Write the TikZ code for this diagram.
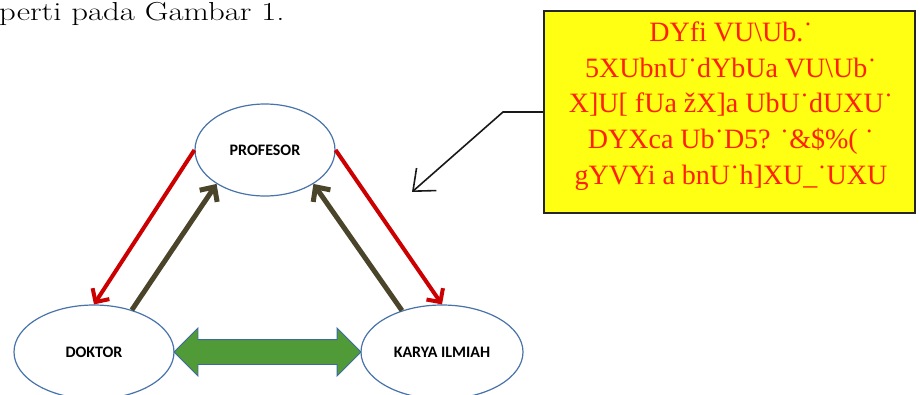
\documentclass[tikz,border=0pt]{standalone}
\usepackage{fontspec}
\newfontfamily\carl{Carlito}
\newfontfamily\tnr{Liberation Serif}
\usetikzlibrary{arrows.meta,shapes.geometric,shapes.arrows,calc}
\definecolor{ellblue}{RGB}{72,115,170}
\definecolor{darkred}{RGB}{204,0,0}
\definecolor{olive}{RGB}{74,69,42}
\definecolor{grn}{RGB}{80,155,55}
\definecolor{grnborder}{RGB}{60,105,160}
\definecolor{ylw}{RGB}{255,255,20}
\definecolor{redtxt}{RGB}{255,32,0}
\tikzset{
  ell/.style={ellipse, draw=ellblue, line width=1.2pt, fill=white, inner sep=0pt,
    font=\carl\bfseries\fontsize{16}{18}\selectfont},
  redarrow/.style={draw=darkred, line width=4pt, -{Straight Barb[length=10pt,width=20pt]}},
  olivearrow/.style={draw=olive, line width=5pt, -{Straight Barb[length=11pt,width=21pt]}},
  callout/.style={draw=black!90, line width=1.6pt},
}
\begin{document}
\begin{tikzpicture}[x=1pt,y=-1pt]
\useasboundingbox (0,0) rectangle (920,394);
% top text
\node[anchor=base west, inner sep=0pt, font=\fontsize{26}{30}\selectfont] (toptext) at (-1,20) {\scalebox{1.26}[1]{perti pada Gambar 1.}};
% ellipses
\node[ell, minimum width=140pt, minimum height=92pt] (prof) at (265,150) {PROFESOR};
\node[ell, minimum width=160pt, minimum height=94pt] (dok) at (94,352) {DOKTOR};
\node[ell, minimum width=162pt, minimum height=94pt] (kar) at (442,352) {KARYA ILMIAH};
% arrows
\draw[redarrow] (prof.180) -- (dok.90);
\draw[redarrow] (prof.0) -- (kar.90);
\draw[olivearrow] (dok.48) -- (prof.215);
\draw[olivearrow] (kar.134) -- (prof.325);
% green double arrow
\node[double arrow, draw=grnborder, line width=0.9pt, fill=grn, inner xsep=0pt, inner ysep=12pt,
  minimum height=187pt, double arrow head extend=11.5pt] (dbl)
  at ($(dok.east)!0.5!(kar.west)$) {};
% callout box
\node[draw=black!85, line width=2pt, fill=ylw, minimum width=371pt, minimum height=202pt,
  inner sep=0pt] (box) at (729.5,112) {};
\node[inner sep=0pt, align=center, text=redtxt, font=\tnr\fontsize{28}{35.7}\selectfont] (boxtext) at (731,106)
  {DYfi VU\textbackslash Ub.˙\\
   5XUbnU˙dYbUa VU\textbackslash Ub˙\\
   X]U[ fUa žX]a UbU˙dUXU˙\\
   DYXca Ub˙D5? ˙\&\$\%( ˙\\
   gYVYi a bnU˙h]XU\_˙UXU};
\coordinate (bend) at (503,112);
\coordinate (tip) at (412,192);
\draw[callout, -{Straight Barb[length=18pt,width=30pt]}] (box.west) -- (bend) -- (tip);
\end{tikzpicture}
\end{document}
